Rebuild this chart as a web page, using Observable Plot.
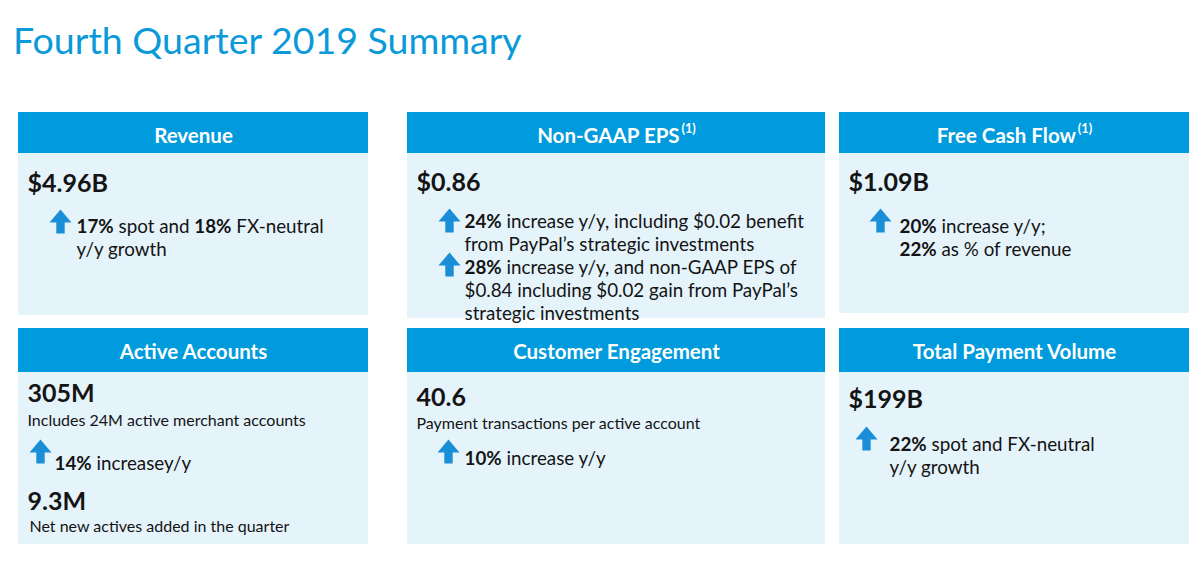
<!DOCTYPE html>
<html>
<head>
<meta charset="utf-8">
<script src="https://cdn.jsdelivr.net/npm/d3@7"></script>
<script src="https://cdn.jsdelivr.net/npm/@observablehq/plot@0.6"></script>
<style>
  html, body { margin: 0; padding: 0; background: #ffffff; }
  #title { position: relative; height: 96px; width: 1200px; }
  #title span {
    position: absolute; left: 13px; top: 17px;
    font-family: Lato, "Open Sans", sans-serif; font-size: 37.5px; line-height: 45px;
    color: #0a9ad9; font-weight: 400; white-space: nowrap;
  }
  #chart svg { display: block; }
</style>
</head>
<body>
<div id="title"><span>Fourth Quarter 2019 Summary</span></div>
<div id="chart"></div>
<script>
// ---------- data ----------
const panelTitles = ["Revenue", "Non-GAAP EPS^(1)^", "Free Cash Flow^(1)^",
                     "Active Accounts", "Customer Engagement", "Total Payment Volume"];
const headlineValues = ["$4.96B", "$0.86", "$1.09B", "305M", "40.6", "$199B"];
const valueCaptions = [null, null, null,
  "Includes 24M active merchant accounts", "Payment transactions per active account", null];
const growthNotes = [
  "**17%** spot and **18%** FX-neutral\ny/y growth",
  "**24%** increase y/y, including $0.02 benefit\nfrom PayPal’s strategic investments",
  "**20%** increase y/y;\n**22%** as % of revenue",
  "**14%** increasey/y",
  "**10%** increase y/y",
  "**22%** spot and FX-neutral\ny/y growth"
];
const extraGrowthNotes = [null,
  "**28%** increase y/y, and non-GAAP EPS of\n$0.84 including $0.02 gain from PayPal’s\nstrategic investments",
  null, null, null, null];
const secondValues = [null, null, null, "9.3M", null, null];
const secondCaptions = [null, null, null, "Net new actives added in the quarter", null, null];

// ---------- layout (page pixels) ----------
const TOP = 96, W = 1200, H = 564 - TOP;
const COLS = [[18, 368], [407, 825], [839, 1189]];
const ROWS = [
  {top: 112, head: 153, titleY: 142, bottoms: [315, 318, 313]},
  {top: 328, head: 372, titleY: 358, bottoms: [544, 544, 544]}
];
const LAYOUT = [
  {valueY: 188, noteX: 76,  noteY: 230, arrow: [60, 221]},
  {valueY: 187, noteX: 464, noteY: 225, arrow: [449, 220], note2Y: 270.5, arrow2: [449, 264]},
  {valueY: 187, noteX: 899, noteY: 230, arrow: [880, 220]},
  {valueY: 398, capY: 423, noteX: 54,  noteY: 467, arrow: [40, 451], value2Y: 506, cap2Y: 529},
  {valueY: 402, capY: 426, noteX: 464, noteY: 462, arrow: [448, 451]},
  {valueY: 404, noteX: 889, noteY: 448, arrow: [866, 438]}
];

const panels = panelTitles.map((t, i) => {
  const col = i % 3, row = Math.floor(i / 3);
  return {i, title: t, col, row, x1: COLS[col][0], x2: COLS[col][1],
          top: ROWS[row].top, head: ROWS[row].head, bottom: ROWS[row].bottoms[col],
          titleY: ROWS[row].titleY, left: COLS[col][0] + 9};
});

const texts = [];   // {x, y (baseline of first line), text, kind}
const arrows = [];
panels.forEach((p, i) => {
  const L = LAYOUT[i];
  texts.push({x: p.left, y: L.valueY, text: headlineValues[i], kind: "value"});
  if (valueCaptions[i]) texts.push({x: p.left, y: L.capY, text: valueCaptions[i], kind: "caption"});
  texts.push({x: L.noteX, y: L.noteY, text: growthNotes[i], kind: "note"});
  arrows.push({x: L.arrow[0], y: L.arrow[1]});
  if (extraGrowthNotes[i]) {
    texts.push({x: L.noteX, y: L.note2Y, text: extraGrowthNotes[i], kind: "note"});
    arrows.push({x: L.arrow2[0], y: L.arrow2[1]});
  }
  if (secondValues[i]) texts.push({x: p.left, y: L.value2Y, text: secondValues[i], kind: "value"});
  if (secondCaptions[i]) texts.push({x: p.left + 2, y: L.cap2Y, text: secondCaptions[i], kind: "caption"});
});

const arrowUp = {
  draw(ctx, size) {
    const r = Math.sqrt(size / Math.PI);
    const k = r / 11;
    ctx.moveTo(0, -12 * k);
    ctx.lineTo(11 * k, 1 * k);
    ctx.lineTo(4.2 * k, 1 * k);
    ctx.lineTo(4.2 * k, 12 * k);
    ctx.lineTo(-4.2 * k, 12 * k);
    ctx.lineTo(-4.2 * k, 1 * k);
    ctx.lineTo(-11 * k, 1 * k);
    ctx.closePath();
  }
};

const INK = "#141414";
const FONT = "Lato, 'Open Sans', sans-serif";
const textMark = (kind, fs, weight, lh = 1.2) => Plot.text(texts.filter(d => d.kind === kind), {
  x: "x", y: "y", text: "text", textAnchor: "start", lineAnchor: "top",
  dy: -0.71 * fs, fontSize: fs, fontWeight: weight, fill: INK, lineHeight: lh
});

const chart = Plot.plot({
  width: W, height: H,
  marginTop: 0, marginRight: 0, marginBottom: 0, marginLeft: 0,
  x: {domain: [0, W], range: [0, W], axis: null},
  y: {domain: [TOP, 564], range: [0, H], axis: null},
  style: {fontFamily: FONT, background: "#ffffff", overflow: "visible"},
  marks: [
    Plot.rect(panels, {x1: "x1", x2: "x2", y1: "head", y2: "bottom", fill: "#e5f3fb"}),
    Plot.rect(panels, {x1: "x1", x2: "x2", y1: "top", y2: "head", fill: "#009bdd"}),
    Plot.text(panels, {x: d => (d.x1 + d.x2) / 2, y: "titleY", text: "title",
      lineAnchor: "bottom", textAnchor: "middle", fill: "#ffffff", fontWeight: 700, fontSize: 20.5}),
    Plot.dot(arrows, {x: "x", y: "y", r: 11, symbol: arrowUp, fill: "#1a8fd8", stroke: null}),
    textMark("value", 25, 700),
    textMark("caption", 16, 400),
    textMark("note", 18.8, 400, 23 / 18.8)
  ]
});

// rich text: **bold** and ^superscript^
const SVGNS = "http://www.w3.org/2000/svg";
function richify(node) {
  const s = node.textContent;
  if (!/\*\*|\^/.test(s)) return;
  node.textContent = "";
  s.split(/(\*\*[^*]+\*\*|\^[^^]+\^)/g).forEach(part => {
    if (!part) return;
    if (part.startsWith("**")) {
      const t = document.createElementNS(SVGNS, "tspan");
      t.setAttribute("font-weight", "bold");
      t.textContent = part.slice(2, -2);
      node.appendChild(t);
    } else if (part.startsWith("^")) {
      const t = document.createElementNS(SVGNS, "tspan");
      t.setAttribute("font-size", "0.62em");
      t.setAttribute("dy", "-0.75em");
      t.setAttribute("dx", "0.15em");
      t.textContent = part.slice(1, -1);
      node.appendChild(t);
    } else {
      node.appendChild(document.createTextNode(part));
    }
  });
}
chart.querySelectorAll("text").forEach(t => {
  const lines = t.querySelectorAll("tspan");
  if (lines.length) lines.forEach(richify); else richify(t);
});

document.getElementById("chart").appendChild(chart);
</script>
</body>
</html>
